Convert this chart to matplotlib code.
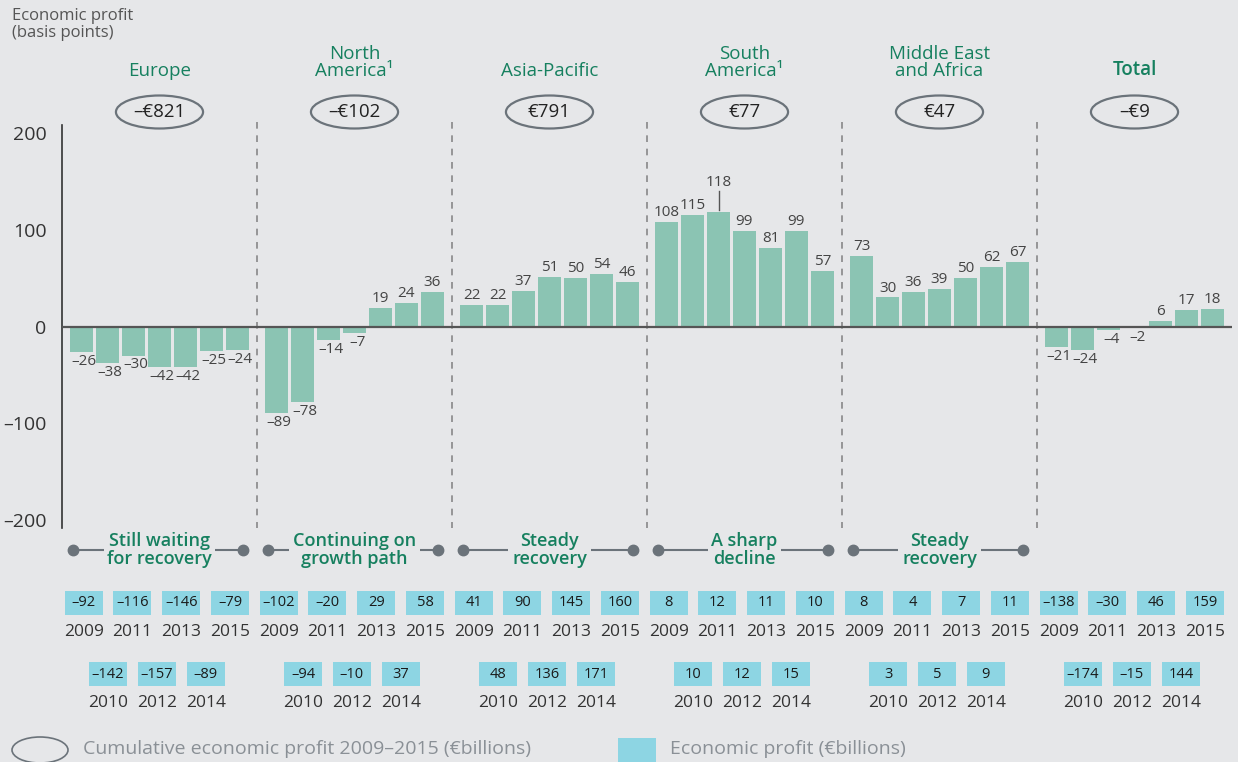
import matplotlib.pyplot as plt
import numpy as np
from matplotlib.patches import Ellipse, Rectangle
from matplotlib.transforms import blended_transform_factory

plt.rcParams['font.family'] = ['Open Sans', 'DejaVu Sans']

# data
regions = ['Europe', 'North\nAmerica\u00b9', 'Asia-Pacific', 'South\nAmerica\u00b9', 'Middle East\nand Africa', 'Total']
cumulative = ['\u2013\u20ac821', '\u2013\u20ac102', '\u20ac791', '\u20ac77', '\u20ac47', '\u2013\u20ac9']
bp_europe = [-26, -38, -30, -42, -42, -25, -24]
bp_namerica = [-89, -78, -14, -7, 19, 24, 36]
bp_asia = [22, 22, 37, 51, 50, 54, 46]
bp_samerica = [108, 115, 118, 99, 81, 99, 57]
bp_mea = [73, 30, 36, 39, 50, 62, 67]
bp_total = [-21, -24, -4, -2, 6, 17, 18]
bp_all = [bp_europe, bp_namerica, bp_asia, bp_samerica, bp_mea, bp_total]
trends = ['Still waiting\nfor recovery', 'Continuing on\ngrowth path', 'Steady\nrecovery',
          'A sharp\ndecline', 'Steady\nrecovery', None]
years = [2009, 2010, 2011, 2012, 2013, 2014, 2015]
ep_europe = [-92, -142, -116, -157, -146, -89, -79]
ep_namerica = [-102, -94, -20, -10, 29, 37, 58]
ep_asia = [41, 48, 90, 136, 145, 171, 160]
ep_samerica = [8, 10, 12, 12, 11, 15, 10]
ep_mea = [8, 3, 4, 5, 7, 9, 11]
ep_total = [-138, -174, -30, -15, 46, 144, 159]
ep_all = [ep_europe, ep_namerica, ep_asia, ep_samerica, ep_mea, ep_total]

BG = '#e6e7e9'
BAR = '#8bc4b3'
BOX = '#8dd5e3'
GREEN = '#16805f'
GRAY = '#6b737a'
DARK = '#333333'

W, H = 1238, 762
fig = plt.figure(figsize=(W / 100, H / 100), dpi=100, facecolor=BG)
ax = fig.add_axes([62 / W, 1 - 527.7 / H, (1232 - 62) / W, (527.7 - 125.3) / H])
ax.set_facecolor(BG)
ax.set_xlim(0, 45)
ax.set_ylim(-208, 208)
for s in ['top', 'right', 'bottom']:
    ax.spines[s].set_visible(False)
ax.spines['left'].set_color(DARK)
ax.spines['left'].set_linewidth(1.2)
ax.set_xticks([])
ax.set_yticks([-200, -100, 0, 100, 200])
ax.set_yticklabels(['\u2013200', '\u2013100', '0', '100', '200'])
ax.tick_params(axis='y', length=0, pad=11, labelsize=14, labelcolor=DARK)

# x in data, y in figure pixels from top
tr = blended_transform_factory(ax.transData, fig.transFigure)
def fy(py):
    return 1 - py / H

PW = 7.5
for i, vals in enumerate(bp_all):
    x0 = PW * i
    xs = x0 + 0.75 + np.arange(7)
    ax.bar(xs, vals, width=0.92, color=BAR, zorder=2)
    for j, (x, v) in enumerate(zip(xs, vals)):
        if i == 3 and j == 2:
            ax.text(x, v + 23, str(v), ha='center', va='bottom', fontsize=11, color='#444444')
            ax.plot([x, x], [v + 2, v + 22], color='#555555', lw=1)
        elif v >= 0:
            ax.text(x, v + 2, str(v), ha='center', va='bottom', fontsize=11, color='#444444')
        else:
            ax.text(x + 0.1, v - 2, '\u2013' + str(-v), ha='center', va='top', fontsize=11, color='#444444')

    cx = x0 + PW / 2
    # region title
    ax.text(cx, fy(80), regions[i], transform=tr, ha='center', va='bottom', fontsize=13.5,
            color=GREEN, linespacing=0.95, fontweight='semibold' if i == 5 else 'normal')
    # cumulative ellipse
    ax.add_patch(Ellipse((cx, fy(112)), 3.35, 33 / H, transform=tr, fill=False,
                         edgecolor=GRAY, lw=1.6, clip_on=False))
    ax.text(cx, fy(112), cumulative[i], transform=tr, ha='center', va='center',
            fontsize=13.5, color='#222222')
    # divider
    if i > 0:
        ax.plot([x0, x0], [fy(122), fy(528)], transform=tr, color='#888888', lw=1.2,
                ls=(0, (4, 4)), clip_on=False)
    # trend connector
    if trends[i]:
        xl, xr = x0 + 11 / 26, x0 + PW - 14 / 26
        ax.plot([xl, xr], [fy(550), fy(550)], transform=tr, color=GRAY, lw=1.5, clip_on=False)
        ax.plot([xl, xr], [fy(550), fy(550)], transform=tr, ls='none', marker='o', ms=7.5,
                color=GRAY, clip_on=False)
        ax.text(cx, fy(550), trends[i], transform=tr, ha='center', va='center', fontsize=13,
                fontweight='semibold', color=GREEN, linespacing=0.95,
                bbox=dict(boxstyle='square,pad=0.2', fc=BG, ec='none'))
    # economic profit boxes
    for j, (yr, ep) in enumerate(zip(years, ep_all[i])):
        bx = cx + (j - 3) * 0.94 - 0.1
        row_box, row_yr = (603, 632) if j % 2 == 0 else (674, 703)
        ax.add_patch(Rectangle((bx - 0.73, fy(row_box + 12)), 1.46, 24 / H, transform=tr,
                               color=BOX, clip_on=False, lw=0))
        lab = str(ep) if ep >= 0 else '\u2013' + str(-ep)
        ax.text(bx, fy(row_box), lab, transform=tr, ha='center', va='center', fontsize=10.5,
                color='#1a1a1a')
        ax.text(bx, fy(row_yr), str(yr), transform=tr, ha='center', va='center', fontsize=12.5,
                color=DARK)

ax.axhline(0, color='#555555', lw=1.6, zorder=3)

fig.text(12 / W, fy(8), 'Economic profit\n(basis points)', ha='left', va='top', fontsize=12,
         color='#555555', linespacing=1.05)

# legend
fig.patches.append(Ellipse((40 / W, fy(750)), 56 / W, 26 / H, transform=fig.transFigure,
                           fill=False, edgecolor=GRAY, lw=1.2))
fig.text(83 / W, fy(749), 'Cumulative economic profit 2009\u20132015 (\u20acbillions)', ha='left',
         va='center', fontsize=14, color='#8a9096')
fig.patches.append(Rectangle((618 / W, fy(762)), 38 / W, 24 / H, transform=fig.transFigure,
                             color=BOX, lw=0))
fig.text(670 / W, fy(749), 'Economic profit (\u20acbillions)', ha='left', va='center',
         fontsize=14, color='#8a9096')

fig.savefig('out.png', dpi=100, facecolor=BG)
